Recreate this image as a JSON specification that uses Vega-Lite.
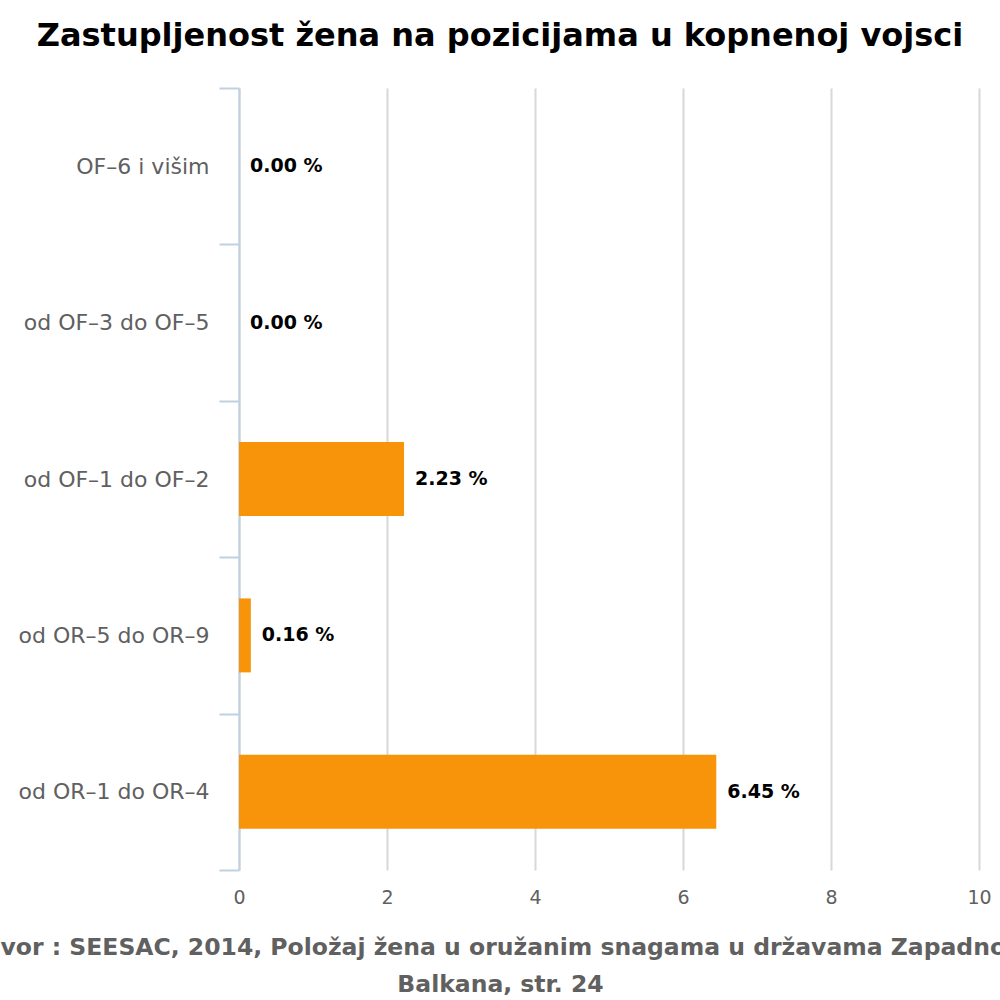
{
  "$schema": "https://vega.github.io/schema/vega-lite/v6.json",
  "autosize": "none",
  "width": 740,
  "height": 782,
  "padding": {"left": 239, "top": 88, "right": 21, "bottom": 130},
  "background": "white",
  "title": {
    "text": "Zastupljenost žena na pozicijama u kopnenoj vojsci",
    "font": "DejaVu Sans",
    "fontSize": 32,
    "fontWeight": "bold",
    "color": "black",
    "anchor": "middle",
    "dx": -109,
    "baseline": "alphabetic",
    "offset": -1
  },
  "config": {
    "view": {"stroke": null},
    "font": "DejaVu Sans"
  },
  "data": {
    "values": [
      {"kategorija": "OF–6 i višim", "udio": 0.00, "oznaka": "0.00 %"},
      {"kategorija": "od OF–3 do OF–5", "udio": 0.00, "oznaka": "0.00 %"},
      {"kategorija": "od OF–1 do OF–2", "udio": 2.23, "oznaka": "2.23 %"},
      {"kategorija": "od OR–5 do OR–9", "udio": 0.16, "oznaka": "0.16 %"},
      {"kategorija": "od OR–1 do OR–4", "udio": 6.45, "oznaka": "6.45 %"}
    ]
  },
  "encoding": {
    "y": {
      "field": "kategorija",
      "type": "nominal",
      "sort": null,
      "scale": {"paddingInner": 0, "paddingOuter": 0},
      "axis": {
        "title": null,
        "domainColor": "#C0D0E0",
        "domainWidth": 2,
        "tickColor": "#C0D0E0",
        "tickWidth": 2,
        "tickSize": 20,
        "tickBand": "extent",
        "labelPadding": 10,
        "labelFontSize": 22,
        "labelLimit": 0,
        "labelColor": "#606060",
        "labelFont": "DejaVu Sans"
      }
    },
    "x": {
      "field": "udio",
      "type": "quantitative",
      "scale": {"domain": [0, 10]},
      "axis": {
        "values": [0, 2, 4, 6, 8, 10],
        "domain": false,
        "ticks": false,
        "gridColor": "#D8D8D8",
        "gridWidth": 2,
        "labelFontSize": 19,
        "labelColor": "#606060",
        "labelPadding": 18,
        "labelFlush": false,
        "title": ["Izvor : SEESAC, 2014, Položaj žena u oružanim snagama u državama Zapadnog", "Balkana, str. 24"],
        "titleFont": "DejaVu Sans",
        "titleFontSize": 23.5,
        "titleFontWeight": "bold",
        "titleColor": "#606060",
        "titleLimit": 0,
        "titleLineHeight": 37,
        "titleBaseline": "alphabetic",
        "titleAlign": "center",
        "titleX": 261,
        "titleY": 84
      }
    }
  },
  "layer": [
    {
      "mark": {"type": "bar", "color": "#F7940A", "height": {"band": 0.473}}
    },
    {
      "mark": {
        "type": "text",
        "align": "left",
        "baseline": "middle",
        "dx": 11,
        "fontSize": 19,
        "fontWeight": "bold",
        "color": "black"
      },
      "encoding": {
        "text": {"field": "oznaka", "type": "nominal"}
      }
    }
  ]
}
